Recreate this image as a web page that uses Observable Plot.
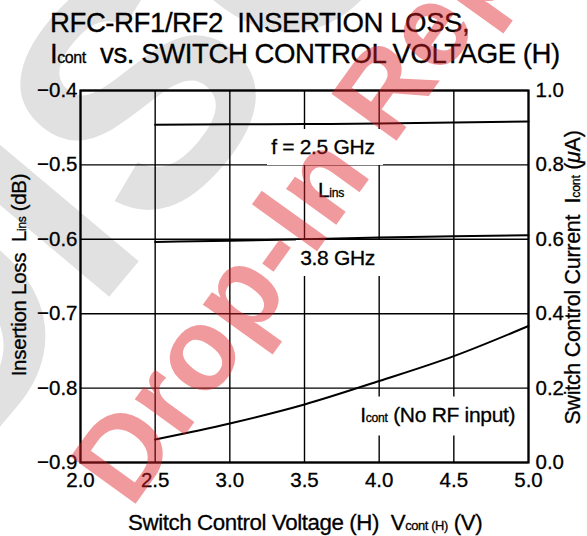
<!DOCTYPE html>
<html><head><meta charset="utf-8">
<script src="https://cdn.jsdelivr.net/npm/d3@7"></script>
<script src="https://cdn.jsdelivr.net/npm/@observablehq/plot@0.6"></script>
<style>
body{margin:0;background:#fff;}
#wrap{position:relative;width:587px;height:536px;overflow:hidden;font-family:"Liberation Sans",Arial,Helvetica,sans-serif;color:#000;background:#fff;}
.abs{position:absolute;white-space:nowrap;-webkit-text-stroke:0.3px #000;}
.s{font-size:0.58em;}
#title{left:50px;top:7px;font-size:27.6px;line-height:31px;letter-spacing:-0.45px;}
.lab{font-size:21px;line-height:24px;transform:translate(0,-50%);letter-spacing:-0.3px;}
.bg{background:#fff;padding:6px 8px 6px 4px;}
.axl{font-size:20.5px;letter-spacing:-0.3px;}
.axr{font-size:21.5px;letter-spacing:-0.3px;}
.axx{font-size:22.3px;letter-spacing:-0.4px;}
#plot,#wm,#wmg{position:absolute;left:0;top:0;}
#plot text{stroke:#000;stroke-width:0.3px;}
.wmt{font-family:"Liberation Sans",Arial,sans-serif;font-weight:bold;}
</style></head>
<body><div id="wrap"></div>
<script>
// ---- data ----
const voltage = [2.5, 3.0, 3.5, 4.0, 4.5, 5.0];
const loss25 = [-0.446, -0.4455, -0.445, -0.4445, -0.443, -0.4415];
const loss38 = [-0.6035, -0.602, -0.600, -0.5975, -0.596, -0.5945];
const icont = [0.062, 0.105, 0.156, 0.219, 0.286, 0.367];
const xTicks = [2.0, 2.5, 3.0, 3.5, 4.0, 4.5, 5.0];
const lossTicks = [-0.9, -0.8, -0.7, -0.6, -0.5, -0.4];
const currentTicks = [0.0, 0.2, 0.4, 0.6, 0.8, 1.0];

const toLoss = c => -0.9 + c * 0.5;      // right axis (µA) -> left axis (dB)
const toCur = l => (l + 0.9) / 0.5;

const rows25 = voltage.map((v, i) => ({v, y: loss25[i]}));
const rows38 = voltage.map((v, i) => ({v, y: loss38[i]}));
const rowsI = voltage.map((v, i) => ({v, y: toLoss(icont[i])}));

const wrap = document.getElementById("wrap");
const NS = "http://www.w3.org/2000/svg";

function makeSvg(id) {
  const s = document.createElementNS(NS, "svg");
  s.setAttribute("id", id); s.setAttribute("width", 587); s.setAttribute("height", 536);
  return s;
}

// grey watermark (behind the chart)
const wmg = makeSvg("wmg");
wrap.appendChild(wmg);
{
  const fs = 320, ang = -50;
  const tx = document.createElementNS(NS, "text");
  tx.setAttribute("class", "wmt"); tx.setAttribute("fill", "#e1e1e1");
  tx.style.fontSize = fs + "px";
  tx.textContent = "DISCONTINUED";
  wmg.appendChild(tx);
  const ext = tx.getExtentOfChar(1);          // the "I"
  const cx = ext.x + ext.width / 2;
  tx.setAttribute("transform", `translate(124,279) rotate(${ang}) translate(${-cx},0)`);
}

const fmt = d3.format(".1f");
const plot = Plot.plot({
  width: 587, height: 536,
  marginTop: 90, marginBottom: 74, marginLeft: 80, marginRight: 59,
  x: {domain: [2, 5]},
  y: {domain: [-0.9, -0.4]},
  style: {fontFamily: "Liberation Sans, Arial, sans-serif", fontSize: "20.5px", color: "#000", background: "transparent"},
  marks: [
    Plot.gridX(xTicks, {stroke: "#000", strokeOpacity: 1, strokeWidth: 1.4}),
    Plot.gridY(lossTicks, {stroke: "#000", strokeOpacity: 1, strokeWidth: 1.4}),
    Plot.axisX(xTicks, {tickSize: 0, tickPadding: 10, tickFormat: fmt, label: null, fontSize: 20.5}),
    Plot.axisY(lossTicks, {anchor: "left", tickSize: 0, tickPadding: 3, tickFormat: fmt, label: null, fontSize: 20.5}),
    Plot.axisY(currentTicks.map(toLoss), {anchor: "right", tickSize: 0, tickPadding: 7, tickFormat: d => fmt(toCur(d)), label: null, fontSize: 20.5}),
    Plot.line(rows25, {x: "v", y: "y", stroke: "#000", strokeWidth: 2, curve: "monotone-x"}),
    Plot.line(rows38, {x: "v", y: "y", stroke: "#000", strokeWidth: 2, curve: "monotone-x"}),
    Plot.line(rowsI, {x: "v", y: "y", stroke: "#000", strokeWidth: 2, curve: "monotone-x"}),
    Plot.frame({stroke: "#000", strokeWidth: 2.2})
  ]
});
plot.id = "plot";
wrap.appendChild(plot);

const xs = plot.scale("x"), ys = plot.scale("y");
function addLabel(html, xv, yv, align, cls) {
  const d = document.createElement("div");
  d.className = "abs " + cls;
  d.innerHTML = html;
  wrap.appendChild(d);
  const w = d.offsetWidth;
  const px = xs.apply(xv);
  d.style.left = (align === "end" ? px - w : align === "middle" ? px - w / 2 : px) + "px";
  d.style.top = ys.apply(yv) + "px";
}
addLabel("f = 2.5 GHz", 4.03, -0.4765, "end", "lab bg");
addLabel("3.8 GHz", 4.03, -0.6255, "end", "lab bg");
addLabel('L<span class="s">ins</span>', 3.68, -0.536, "middle", "lab");
addLabel('I<span class="s">cont</span> (No RF input)', 3.85, -0.8376, "start", "lab bg");

// title
const t = document.createElement("div");
t.id = "title"; t.className = "abs";
t.innerHTML = 'RFC-RF1/RF2&nbsp; INSERTION LOSS,<br>I<span class="s">cont</span>&nbsp; vs. SWITCH CONTROL VOLTAGE (H)';
wrap.appendChild(t);

// axis titles
const xl = document.createElement("div");
xl.className = "abs axx";
xl.innerHTML = 'Switch Control Voltage (H)&nbsp; V<span class="s">cont (H)</span> (V)';
xl.style.left = "128px"; xl.style.top = "510px";
wrap.appendChild(xl);

function rotLabel(html, cx, cy, cls) {
  const d = document.createElement("div");
  d.className = "abs " + cls;
  d.innerHTML = html;
  wrap.appendChild(d);
  const w = d.offsetWidth, h = d.offsetHeight;
  d.style.left = (cx - w / 2) + "px";
  d.style.top = (cy - h / 2) + "px";
  d.style.transform = "rotate(-90deg)";
}
rotLabel('Insertion Loss&nbsp; L<span class="s">ins</span> (dB)', 19, 275, "axl");
rotLabel('Switch Control Current&nbsp; I<span class="s">cont</span> (<i>μ</i>A)', 573, 277, "axr");

// red watermark (on top)
const wm = makeSvg("wm");
wrap.appendChild(wm);
{
  const tx = document.createElementNS(NS, "text");
  tx.setAttribute("class", "wmt");
  tx.setAttribute("fill", "rgb(225,30,40)"); tx.setAttribute("fill-opacity", "0.45");
  tx.style.fontSize = "125px";
  tx.textContent = "Drop-In Replacement";
  wm.appendChild(tx);
  const A = [131, 510], B = [392, 147];      // pen start of "D" and of "R"
  const a0 = tx.getStartPositionOfChar(0).x, b0 = tx.getStartPositionOfChar(8).x;
  const S = Math.hypot(B[0] - A[0], B[1] - A[1]);
  tx.style.fontSize = (125 * S / (b0 - a0)) + "px";
  const a1 = tx.getStartPositionOfChar(0).x;
  const ang = Math.atan2(B[1] - A[1], B[0] - A[0]) * 180 / Math.PI;
  tx.setAttribute("transform", `translate(${A[0]},${A[1]}) rotate(${ang}) translate(${-a1},0)`);
}
</script></body></html>
